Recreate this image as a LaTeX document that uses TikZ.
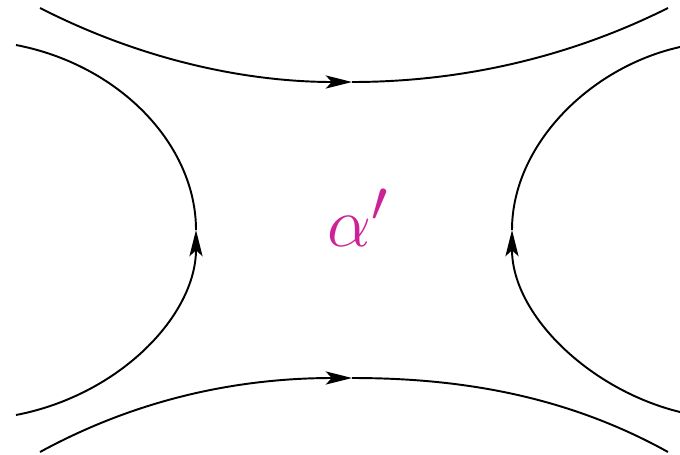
\documentclass[tikz,border=0pt]{standalone}
\usetikzlibrary{arrows.meta}
\definecolor{labelpink}{RGB}{204,34,150}

\tikzset{
    flow/.style={black, line width=1.1pt},
    flow arrow/.style={flow, -{Stealth[length=15pt, width=7.5pt, inset=3.5pt]}},
    region label/.style={text=labelpink, font=\Huge},
}

\begin{document}
\begin{tikzpicture}[x=0.02cm, y=-0.02cm]
    \useasboundingbox (0,0) rectangle (680,454);

    % end points and turning points of the four flow lines
    \coordinate (tl) at (40,8);
    \coordinate (tm) at (352,82);
    \coordinate (tr) at (668,8);
    \coordinate (bl) at (40,452);
    \coordinate (bm) at (352,378);
    \coordinate (br) at (668,452);
    \coordinate (lt) at (16,45);
    \coordinate (lm) at (196,230);
    \coordinate (lb) at (16,415);
    \coordinate (rt) at (680,47);
    \coordinate (rm) at (512,230);
    \coordinate (rb) at (680,412);

    % top and bottom lines, running to the right
    \draw[flow arrow] (tl) .. controls (150,64) and (255,82) .. (tm);
    \draw[flow] (tm) .. controls (450,82) and (560,62) .. (tr);
    \draw[flow arrow] (bl) .. controls (150,392) and (255,378) .. (bm);
    \draw[flow] (bm) .. controls (450,378) and (560,392) .. (br);

    % left and right lines, running upwards
    \draw[flow arrow] (lb) .. controls (120,395) and (196,315) .. (lm);
    \draw[flow] (lm) .. controls (196,145) and (120,65) .. (lt);
    \draw[flow arrow] (rb) .. controls (590,390) and (512,315) .. (rm);
    \draw[flow] (rm) .. controls (512,145) and (590,67) .. (rt);

    \node[region label] (alpha) at (358,218) {\scalebox{1.6}{$\alpha'$}};

\end{tikzpicture}
\end{document}
